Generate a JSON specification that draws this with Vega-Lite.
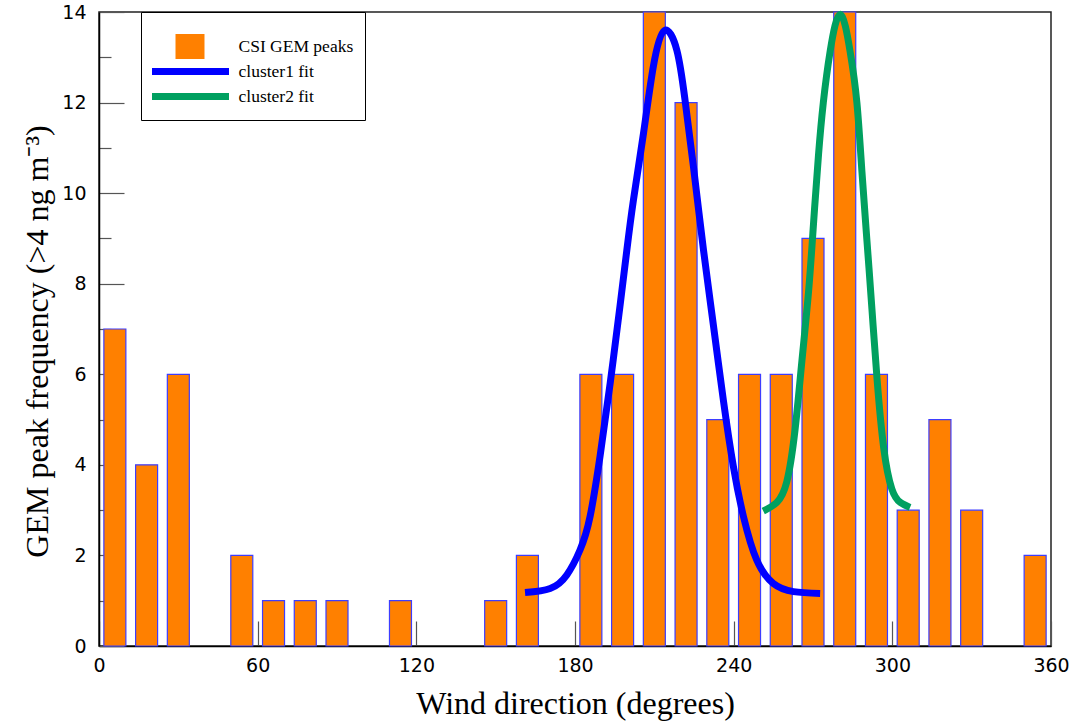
{
  "$schema": "https://vega.github.io/schema/vega-lite/v6.json",
  "autosize": {"type": "none"},
  "padding": {"left": 99, "top": 12, "right": 24, "bottom": 75},
  "width": 952,
  "height": 634,
  "background": "white",
  "config": {
    "view": {"stroke": "#222", "strokeWidth": 1.5},
    "axis": {"grid": false, "labelFlush": false, "labelOverlap": false, "labelBound": false, "domainColor": "black", "domainWidth": 1.5, "tickColor": "#555", "tickWidth": 1.2, "labelFont": "DejaVu Sans", "labelFontSize": 19, "labelColor": "black", "titleFont": "Liberation Serif", "titleFontSize": 32, "titleFontWeight": "normal", "titleColor": "black"}
  },
  "encoding": {
    "x": {"field": "dir", "type": "quantitative", "scale": {"domain": [0, 360], "nice": false, "zero": false, "padding": 0},
      "axis": {"title": "Wind direction (degrees)", "values": [0, 60, 120, 180, 240, 300, 360], "tickSize": -25, "labelPadding": 35, "titleX": 476, "titleY": 67, "titleBaseline": "alphabetic"}},
    "y": {"field": "value", "type": "quantitative", "scale": {"domain": [0, 14], "nice": false, "padding": 0},
      "axis": {"title": "GEM peak frequency (>4 ng m⁻³)", "values": [0,1,2,3,4,5,6,7,8,9,10,11,12,13,14], "labelExpr": "datum.value % 2 === 0 ? datum.label : ''", "tickSize": {"condition": {"test": "datum.value % 2 === 0", "value": -25}, "value": -12}, "labelPadding": 38, "titleX": -52, "titleY": 329, "titleBaseline": "alphabetic", "titleAngle": -90}},
    "color": {"field": "series", "type": "nominal",
      "scale": {"domain": ["CSI GEM peaks", "cluster1 fit", "cluster2 fit"], "range": ["#FF8000", "#0000FF", "#00A060"]},
      "legend": {
        "title": " ", "titleFontSize": 1, "titlePadding": 10,
        "orient": "none", "legendX": 42, "legendY": 0,
        "padding": 11, "strokeColor": "black", "fillColor": "white",
        "symbolSize": 6084, "symbolStrokeWidth": 7, "symbolOffset": -4.5,
        "clipHeight": 25, "rowPadding": 0,
        "labelFont": "Liberation Serif", "labelFontSize": 17.5, "labelColor": "black", "labelOffset": 6,
        "labelExpr": "datum.label + '\u00a0\u00a0'",
        "encode": {"symbols": {"update": {
          "shape": {"signal": "datum.value === 'CSI GEM peaks' ? 'M-0.282,-0.282H0.282V0.282H-0.282Z' : 'stroke'"},
          "fill": {"signal": "datum.value === 'CSI GEM peaks' ? '#FF8000' : 'transparent'"},
          "stroke": {"signal": "datum.value === 'CSI GEM peaks' ? 'transparent' : (datum.value === 'cluster1 fit' ? '#0000FF' : '#00A060')"},
          "strokeWidth": {"value": 7},
          "opacity": {"value": 1}
        }}}
      }}
  },
  "layer": [
    {
      "data": {"values": [
        {"dir": 6, "value": 7, "series": "CSI GEM peaks"},
        {"dir": 18, "value": 4, "series": "CSI GEM peaks"},
        {"dir": 30, "value": 6, "series": "CSI GEM peaks"},
        {"dir": 54, "value": 2, "series": "CSI GEM peaks"},
        {"dir": 66, "value": 1, "series": "CSI GEM peaks"},
        {"dir": 78, "value": 1, "series": "CSI GEM peaks"},
        {"dir": 90, "value": 1, "series": "CSI GEM peaks"},
        {"dir": 114, "value": 1, "series": "CSI GEM peaks"},
        {"dir": 150, "value": 1, "series": "CSI GEM peaks"},
        {"dir": 162, "value": 2, "series": "CSI GEM peaks"},
        {"dir": 186, "value": 6, "series": "CSI GEM peaks"},
        {"dir": 198, "value": 6, "series": "CSI GEM peaks"},
        {"dir": 210, "value": 14, "series": "CSI GEM peaks"},
        {"dir": 222, "value": 12, "series": "CSI GEM peaks"},
        {"dir": 234, "value": 5, "series": "CSI GEM peaks"},
        {"dir": 246, "value": 6, "series": "CSI GEM peaks"},
        {"dir": 258, "value": 6, "series": "CSI GEM peaks"},
        {"dir": 270, "value": 9, "series": "CSI GEM peaks"},
        {"dir": 282, "value": 14, "series": "CSI GEM peaks"},
        {"dir": 294, "value": 6, "series": "CSI GEM peaks"},
        {"dir": 306, "value": 3, "series": "CSI GEM peaks"},
        {"dir": 318, "value": 5, "series": "CSI GEM peaks"},
        {"dir": 330, "value": 3, "series": "CSI GEM peaks"},
        {"dir": 354, "value": 2, "series": "CSI GEM peaks"}
      ]},
      "mark": {"type": "bar", "size": 22, "stroke": "#3d3dff", "strokeWidth": 1.2, "opacity": 1}
    },
    {
      "data": {"values": [
        {"dir": 161.1, "value": 1.18, "series": "cluster1 fit"},
        {"dir": 170.6, "value": 1.27, "series": "cluster1 fit"},
        {"dir": 176.9, "value": 1.57, "series": "cluster1 fit"},
        {"dir": 181.9, "value": 2.12, "series": "cluster1 fit"},
        {"dir": 185.7, "value": 2.86, "series": "cluster1 fit"},
        {"dir": 189.5, "value": 4.2, "series": "cluster1 fit"},
        {"dir": 193.3, "value": 5.8, "series": "cluster1 fit"},
        {"dir": 197.0, "value": 7.5, "series": "cluster1 fit"},
        {"dir": 199.6, "value": 8.74, "series": "cluster1 fit"},
        {"dir": 202.1, "value": 9.85, "series": "cluster1 fit"},
        {"dir": 205.9, "value": 11.32, "series": "cluster1 fit"},
        {"dir": 209.6, "value": 12.79, "series": "cluster1 fit"},
        {"dir": 213.8, "value": 13.59, "series": "cluster1 fit"},
        {"dir": 218.5, "value": 13.16, "series": "cluster1 fit"},
        {"dir": 221.6, "value": 12.06, "series": "cluster1 fit"},
        {"dir": 224.8, "value": 10.58, "series": "cluster1 fit"},
        {"dir": 228.6, "value": 8.74, "series": "cluster1 fit"},
        {"dir": 232.3, "value": 7.1, "series": "cluster1 fit"},
        {"dir": 236.1, "value": 5.43, "series": "cluster1 fit"},
        {"dir": 239.9, "value": 3.96, "series": "cluster1 fit"},
        {"dir": 243.7, "value": 2.86, "series": "cluster1 fit"},
        {"dir": 248.7, "value": 1.9, "series": "cluster1 fit"},
        {"dir": 255.0, "value": 1.38, "series": "cluster1 fit"},
        {"dir": 262.6, "value": 1.2, "series": "cluster1 fit"},
        {"dir": 272.7, "value": 1.16, "series": "cluster1 fit"},
        {"dir": 251.2, "value": 2.98, "series": "cluster2 fit"},
        {"dir": 256.3, "value": 3.17, "series": "cluster2 fit"},
        {"dir": 260.1, "value": 3.63, "series": "cluster2 fit"},
        {"dir": 263.2, "value": 4.77, "series": "cluster2 fit"},
        {"dir": 265.8, "value": 6.29, "series": "cluster2 fit"},
        {"dir": 268.3, "value": 7.81, "series": "cluster2 fit"},
        {"dir": 270.2, "value": 9.33, "series": "cluster2 fit"},
        {"dir": 272.1, "value": 10.86, "series": "cluster2 fit"},
        {"dir": 273.9, "value": 12.0, "series": "cluster2 fit"},
        {"dir": 276.5, "value": 13.14, "series": "cluster2 fit"},
        {"dir": 280.3, "value": 13.95, "series": "cluster2 fit"},
        {"dir": 284.0, "value": 13.14, "series": "cluster2 fit"},
        {"dir": 286.6, "value": 12.0, "series": "cluster2 fit"},
        {"dir": 288.5, "value": 10.48, "series": "cluster2 fit"},
        {"dir": 290.4, "value": 8.95, "series": "cluster2 fit"},
        {"dir": 292.3, "value": 7.43, "series": "cluster2 fit"},
        {"dir": 294.2, "value": 5.91, "series": "cluster2 fit"},
        {"dir": 296.7, "value": 4.39, "series": "cluster2 fit"},
        {"dir": 299.8, "value": 3.47, "series": "cluster2 fit"},
        {"dir": 303.0, "value": 3.17, "series": "cluster2 fit"},
        {"dir": 306.7, "value": 3.06, "series": "cluster2 fit"}
      ]},
      "mark": {"type": "line", "strokeWidth": 7, "interpolate": "natural", "clip": false, "strokeCap": "butt"}
    }
  ]
}
